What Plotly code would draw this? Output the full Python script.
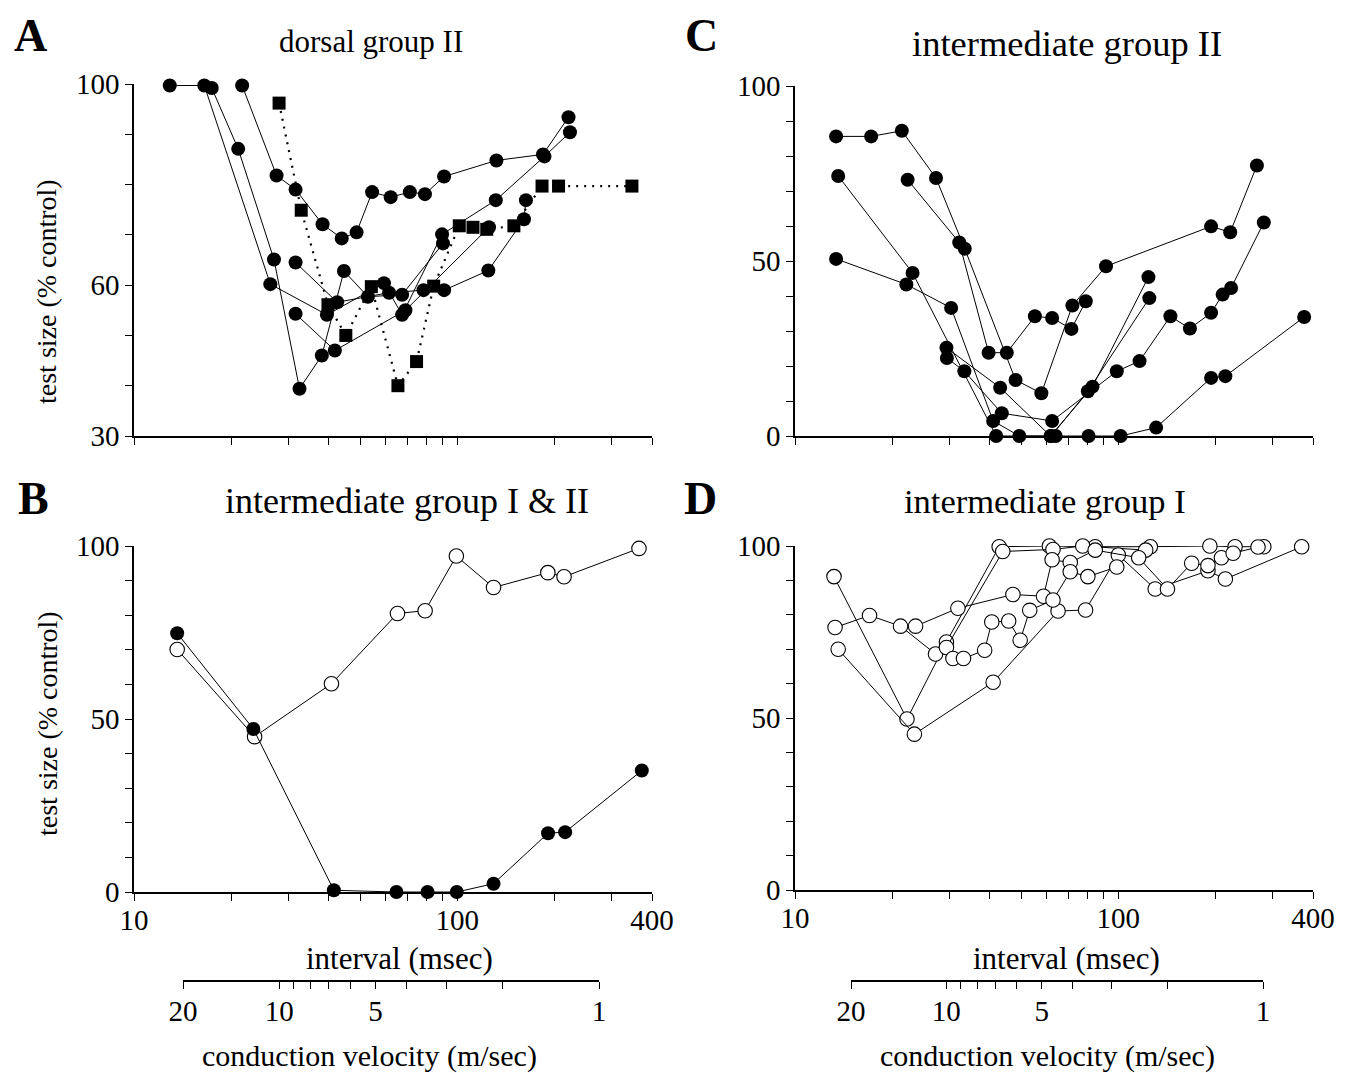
import math
import plotly.graph_objects as go

W, H = 1346, 1073
OFF_X, OFF_Y = 7, 8   # page margin of the browser around the figure

# ---------------- data (interval in msec, test size in % of control) -------------
# Panel A : dorsal group II
A1_x = [21.6, 27.6, 31.6, 38.3, 43.9, 48.8, 54.5, 62.2, 71.3, 79.4, 91.0, 132.1, 184.0, 220.7]
A1_y = [99.7, 81.8, 79.0, 72.1, 69.3, 70.5, 78.5, 77.5, 78.5, 78.1, 81.6, 84.8, 86.0, 93.4]
A2_x = [12.9, 16.5, 26.4, 39.5, 59.3, 67.5, 89.7, 131.5, 186.0, 223.0]
A2_y = [99.7, 99.7, 60.2, 54.1, 60.4, 54.1, 70.1, 76.9, 85.6, 90.4]
A3_x = [17.4, 21.0, 27.1, 32.5, 38.1, 44.6, 52.9, 67.5, 90.3]
A3_y = [99.2, 87.1, 65.1, 39.4, 46.0, 62.8, 57.7, 58.1, 68.3]
A4_x = [31.6, 42.5, 61.5, 78.6, 91.0, 124.7, 160.7, 163.0]
A4_y = [64.5, 56.6, 58.5, 59.0, 59.0, 62.9, 73.1, 76.9]
A5_x = [31.6, 41.8, 69.1, 125.3]
A5_y = [54.3, 47.0, 55.0, 71.5]
A_sq_x = [28.1, 32.9, 39.8, 45.2, 54.2, 65.5, 74.8, 84.5, 101.4, 111.8, 123.3, 149.6, 182.8, 205.6, 346.7]
A_sq_y = [96.2, 74.9, 56.1, 50.0, 59.7, 40.0, 44.8, 59.8, 71.8, 71.5, 71.1, 71.8, 79.7, 79.7, 79.7]

# Panel B : intermediate group I & II
B_fill_x = [13.6, 23.4, 41.5, 64.8, 80.9, 99.6, 129.4, 190.8, 215.5, 372.0]
B_fill_y = [74.8, 47.1, 0.5, 0.0, 0.0, 0.0, 2.4, 17.0, 17.3, 35.1]
B_open_x = [13.6, 23.6, 40.8, 65.3, 79.5, 99.3, 129.4, 190.5, 213.8, 364.6]
B_open_y = [70.1, 44.9, 60.2, 80.5, 81.3, 97.1, 88.0, 92.3, 91.1, 99.3]

# Panel C : intermediate group II
C1_x = [13.4, 17.2, 21.4, 27.3, 33.5, 48.1, 57.8, 72.1, 91.6, 193.6, 221.8, 268.3]
C1_y = [85.6, 85.6, 87.2, 73.7, 53.5, 16.0, 12.2, 37.3, 48.5, 59.9, 58.2, 77.3]
C2_x = [22.3, 32.2, 39.7, 45.2, 55.2, 62.4, 71.6, 79.3]
C2_y = [73.2, 55.3, 23.8, 23.8, 34.2, 33.7, 30.6, 38.5]
C3_x = [13.6, 23.1, 41.9, 64.0, 80.9, 101.6, 130.9, 193.6, 214.3, 375.6]
C3_y = [74.3, 46.6, 0.0, 0.0, 0.0, 0.0, 2.4, 16.6, 17.1, 34.0]
C4_x = [13.4, 22.1, 30.4, 41.0, 49.4, 62.0, 80.5, 124.7]
C4_y = [50.6, 43.3, 36.6, 4.3, 0.0, 0.0, 12.8, 39.4]
C5_x = [29.4, 43.1, 61.7, 83.2, 123.9]
C5_y = [25.2, 13.8, 0.0, 14.1, 45.4]
C6_x = [29.5, 33.4, 43.6, 62.4, 98.9, 116.3, 144.9, 166.5, 193.6, 210.2, 223.2, 281.8]
C6_y = [22.3, 18.5, 6.5, 4.3, 18.5, 21.4, 34.2, 30.7, 35.2, 40.4, 42.3, 61.0]

# Panel D : intermediate group I
D1_x = [13.2, 22.2, 29.4, 42.8, 61.2, 84.8, 125.6, 191.9, 229.6, 281.8]
D1_y = [91.1, 49.7, 72.1, 99.8, 100.0, 99.8, 99.8, 100.0, 99.8, 99.8]
D2_x = [13.3, 17.0, 21.2, 27.2, 29.4, 43.9, 62.8, 77.6, 121.5]
D2_y = [76.3, 79.8, 76.7, 68.6, 70.5, 98.4, 99.0, 100.0, 98.8]
D3_x = [13.6, 23.4, 41.0, 65.1, 79.2, 100.0, 130.0, 189.3, 214.3, 369.0]
D3_y = [70.0, 45.3, 60.4, 81.1, 81.4, 97.4, 87.5, 92.8, 90.4, 99.8]
D4_x = [23.6, 31.9, 47.2, 58.7, 62.4, 71.0, 84.8, 115.6, 141.9, 168.6, 189.3, 208.4, 226.5, 270.4]
D4_y = [76.7, 81.9, 85.9, 85.4, 96.0, 95.2, 98.8, 96.6, 87.5, 95.0, 94.3, 96.6, 97.9, 99.7]
D5_x = [30.8, 33.2, 38.6, 40.6, 45.8, 49.7, 53.2, 62.8, 71.0, 80.5, 98.9]
D5_y = [67.3, 67.3, 69.7, 77.9, 78.2, 72.6, 81.3, 84.3, 92.5, 91.1, 93.9]

# axis ticks / labels
interval_ticks = [10, 20, 30, 40, 50, 60, 70, 80, 90, 100, 200, 300, 400]
interval_labels = ["10", "", "", "", "", "", "", "", "", "100", "", "", "400"]
ya_ticks = [30, 40, 50, 60, 70, 80, 90, 100]
ya_labels = ["30", "", "", "60", "", "", "", "100"]
y_ticks = [0, 10, 20, 30, 40, 50, 60, 70, 80, 90, 100]
y_labels = ["0", "", "", "", "", "50", "", "", "", "", "100"]
vel_ticks = [20, 10, 9, 8, 7, 6, 5, 4, 3, 2, 1]
vel_labels = ["20", "10", "", "", "", "", "5", "", "", "", "1"]

FONT = "Liberation Serif"

def fx(px):
    return (px - OFF_X) / W

def fy(py):
    return 1 - (py - OFF_Y) / H

fig = go.Figure()

def series(xs, ys, ax, kind="fill", dash="solid"):
    if kind == "fill":
        marker = dict(symbol="circle", size=14, color="black", line=dict(width=0))
    elif kind == "square":
        marker = dict(symbol="square", size=13, color="black", line=dict(width=0))
    else:
        marker = dict(symbol="circle", size=14.5, color="white", line=dict(width=1.1, color="black"))
    fig.add_trace(go.Scatter(
        x=xs, y=ys, xaxis="x" + ax, yaxis="y" + ax,
        mode="lines+markers", cliponaxis=False,
        line=dict(color="black", width=1 if dash == "solid" else 2.2, dash=dash),
        marker=marker, showlegend=False, hoverinfo="skip"))

# Panel A
series(A_sq_x, A_sq_y, "", "square", dash="2px,6px")
for xs, ys in [(A1_x, A1_y), (A2_x, A2_y), (A3_x, A3_y), (A4_x, A4_y), (A5_x, A5_y)]:
    series(xs, ys, "")
# Panel B
series(B_open_x, B_open_y, "2", "open")
series(B_fill_x, B_fill_y, "2", "fill")
# Panel C
for xs, ys in [(C1_x, C1_y), (C2_x, C2_y), (C3_x, C3_y), (C4_x, C4_y), (C5_x, C5_y), (C6_x, C6_y)]:
    series(xs, ys, "3")
# Panel D
for xs, ys in [(D1_x, D1_y), (D2_x, D2_y), (D3_x, D3_y), (D4_x, D4_y), (D5_x, D5_y)]:
    series(xs, ys, "4", "open")

# invisible carriers for the conduction velocity scales
for ax in ["5", "6"]:
    fig.add_trace(go.Scatter(x=[vel_ticks[0], vel_ticks[-1]], y=[0, 0], xaxis="x" + ax, yaxis="y" + ax,
                             mode="markers", marker=dict(opacity=0), showlegend=False, hoverinfo="skip"))

tickfont = dict(family=FONT, size=29, color="black")
common = dict(showline=True, linecolor="black", linewidth=1.6, ticks="outside", ticklen=7,
              tickwidth=1.4, tickcolor="black", showgrid=False, zeroline=False, tickfont=tickfont,
              automargin=False)

def xaxis(dom, anchor, labels):
    return dict(domain=dom, anchor=anchor, type="log", range=[1, math.log10(400)],
                tickmode="array", tickvals=interval_ticks, ticklabelstandoff=-6,
                ticktext=interval_labels if labels else [""] * len(interval_ticks), **common)

def yaxis(dom, anchor, rng, tv, tt):
    return dict(domain=dom, anchor=anchor, range=rng, tickmode="array", tickvals=tv, ticktext=tt, **common)

AX_L = [fx(133), fx(651)]
AX_R = [fx(794), fx(1312)]

fig.update_layout(
    width=W, height=H, margin=dict(l=0, r=0, t=0, b=0, autoexpand=False),
    paper_bgcolor="white", plot_bgcolor="white", showlegend=False,
    font=dict(family=FONT, color="black"),
    xaxis=xaxis(AX_L, "y", False),
    yaxis=yaxis([fy(436), fy(84)], "x", [30, 100], ya_ticks, ya_labels),
    xaxis2=xaxis(AX_L, "y2", True),
    yaxis2=yaxis([fy(892), fy(546)], "x2", [0, 100], y_ticks, y_labels),
    xaxis3=xaxis(AX_R, "y3", False),
    yaxis3=yaxis([fy(436), fy(86)], "x3", [0, 100], y_ticks, y_labels),
    xaxis4=xaxis(AX_R, "y4", True),
    yaxis4=yaxis([fy(890), fy(546)], "x4", [0, 100], y_ticks, y_labels),
    xaxis5=dict(domain=[fx(182), fx(598)], anchor="y5", type="log", ticklabelstandoff=-3,
                range=[math.log10(20), 0], tickmode="array", tickvals=vel_ticks, ticktext=vel_labels, **common),
    yaxis5=dict(domain=[fy(980), fy(975)], anchor="x5", visible=False, range=[-1, 1], automargin=False),
    xaxis6=dict(domain=[fx(850), fx(1262)], anchor="y6", type="log", ticklabelstandoff=-3,
                range=[math.log10(20), 0], tickmode="array", tickvals=vel_ticks, ticktext=vel_labels, **common),
    yaxis6=dict(domain=[fy(980), fy(975)], anchor="x6", visible=False, range=[-1, 1], automargin=False),
)

def note(text, px, py, size, bold=False, angle=0):
    fig.add_annotation(xref="paper", yref="paper", x=fx(px), y=fy(py), text=("<b>%s</b>" % text) if bold else text,
                       showarrow=False, xanchor="center", yanchor="middle", textangle=angle,
                       font=dict(family=FONT, size=size, color="black"))

note("A", 30, 35, 46, bold=True)
note("B", 32, 498, 46, bold=True)
note("C", 701, 36, 46, bold=True)
note("D", 700, 498, 46, bold=True)
note("dorsal group II", 370, 41, 31)
note("intermediate group I &amp; II", 406, 501, 36)
note("intermediate group II", 1066, 43, 36.5)
note("intermediate group I", 1044, 501, 34.5)
note("test size (% control)", 46, 292, 28, angle=-90)
note("test size (% control)", 46, 724, 28, angle=-90)
note("interval (msec)", 398, 958, 31)
note("interval (msec)", 1065, 958, 31)
note("conduction velocity (m/sec)", 368, 1056, 30)
note("conduction velocity (m/sec)", 1046, 1056, 30)

fig.write_html("out.html")
